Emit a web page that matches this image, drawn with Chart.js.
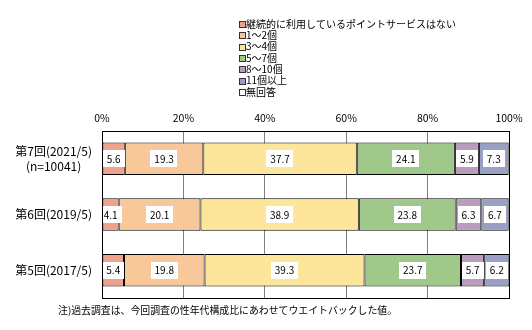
<!DOCTYPE html>
<html><head><meta charset="utf-8">
<script src="https://cdn.jsdelivr.net/npm/chart.js@4/dist/chart.umd.min.js"></script>
<style>html,body{margin:0;padding:0;background:#fff}#wrap{width:532px;height:330px;position:relative}</style>
</head><body><div id="wrap"><canvas id="c" width="532" height="330"></canvas></div>
<script>
const categories = [["第7回(2021/5)", "(n=10041)"], "第6回(2019/5)", "第5回(2017/5)"];
const seriesNames = ["継続的に利用しているポイントサービスはない", "1～2個", "3～4個", "5～7個", "8～10個", "11個以上", "無回答"];
const s0 = [5.6, 4.1, 5.4];
const s1 = [19.3, 20.1, 19.8];
const s2 = [37.7, 38.9, 39.3];
const s3 = [24.1, 23.8, 23.7];
const s4 = [5.9, 6.3, 5.7];
const s5 = [7.3, 6.7, 6.2];
const s6 = [0.1, 0.1, 0.0];
const tickValues = [0, 20, 40, 60, 80, 100];
const footnote = "注)過去調査は、今回調査の性年代構成比にあわせてウエイトバックした値。";
const colors = ["#EDA28C", "#F9C89A", "#FDE59A", "#A0C88A", "#BA9CBC", "#98A0C4", "#FFFFFF"];
const seriesData = [s0, s1, s2, s3, s4, s5, s6];
const FONT = '"Noto Sans CJK JP", "Liberation Sans", sans-serif';

const datasets = seriesData.map((d, i) => ({
  label: seriesNames[i], data: d, backgroundColor: colors[i],
  borderColor: "#000", borderWidth: 1, borderSkipped: false,
  barPercentage: 0.585, categoryPercentage: 1.0
}));

const extras = {
  id: "extras",
  afterDatasetsDraw(chart) {
    const ctx = chart.ctx;
    const a = chart.chartArea;
    ctx.save();
    ctx.font = "10px " + FONT;
    ctx.textAlign = "center"; ctx.textBaseline = "middle";
    for (let di = 0; di < 6; di++) {
      const meta = chart.getDatasetMeta(di);
      meta.data.forEach((el, j) => {
        const v = seriesData[di][j];
        const txt = v.toFixed(1);
        const cx = (el.x + el.base) / 2, cy = el.y;
        const w = ctx.measureText(txt).width + 8, h = 17;
        ctx.fillStyle = "#fff";
        ctx.fillRect(Math.round(cx - w / 2), Math.round(cy - h / 2), Math.round(w), h);
        ctx.fillStyle = "#000";
        ctx.fillText(txt, cx, cy + 0.5);
      });
    }
    ctx.strokeStyle = "#000"; ctx.lineWidth = 1;
    ctx.strokeRect(Math.round(a.left) + 0.5, Math.round(a.top) + 0.5, Math.round(a.right - a.left), Math.round(a.bottom - a.top));
    ctx.restore();
  },
  afterDraw(chart) {
    const ctx = chart.ctx;
    ctx.save();
    ctx.font = "10px " + FONT;
    ctx.textBaseline = "middle"; ctx.textAlign = "left";
    seriesNames.forEach((n, i) => {
      const y = 24 + i * 11.3;
      ctx.fillStyle = colors[i];
      ctx.fillRect(239, Math.round(y - 3), 6, 6);
      ctx.strokeStyle = "#333"; ctx.lineWidth = 1;
      ctx.strokeRect(239.5, Math.round(y - 3) + 0.5, 6, 6);
      ctx.fillStyle = "#000";
      ctx.fillText(n, 246, y);
    });
    ctx.font = "9.9px " + FONT;
    ctx.fillText(footnote, 58, 310);
    ctx.restore();
  }
};

new Chart(document.getElementById("c"), {
  type: "bar",
  data: { labels: categories, datasets },
  options: {
    indexAxis: "y", responsive: false, animation: false,
    layout: { padding: { top: 107, right: 23, bottom: 32, left: 0 } },
    plugins: { legend: { display: false }, tooltip: { enabled: false } },
    scales: {
      x: {
        position: "top", stacked: true, min: 0, max: 100,
        afterBuildTicks(s) { s.ticks = tickValues.map(v => ({ value: v })); },
        afterFit(s) { s.height = 24; },
        ticks: { callback: v => v + "%", color: "#000", padding: 7, font: { family: FONT, size: 10.5 } },
        grid: { drawTicks: false, color: ctx => (ctx.tick && (ctx.tick.value === 0 || ctx.tick.value === 100)) ? "#000" : "#808080" },
        border: { display: false }
      },
      y: {
        stacked: true,
        afterFit(s) { s.width = 102; },
        ticks: { color: "#000", padding: 10, crossAlign: "center", font: { family: FONT, size: 12 }, lineHeight: 1.2 },
        grid: { display: false, drawTicks: false }, border: { display: false }
      }
    }
  },
  plugins: [extras]
});
</script></body></html>
